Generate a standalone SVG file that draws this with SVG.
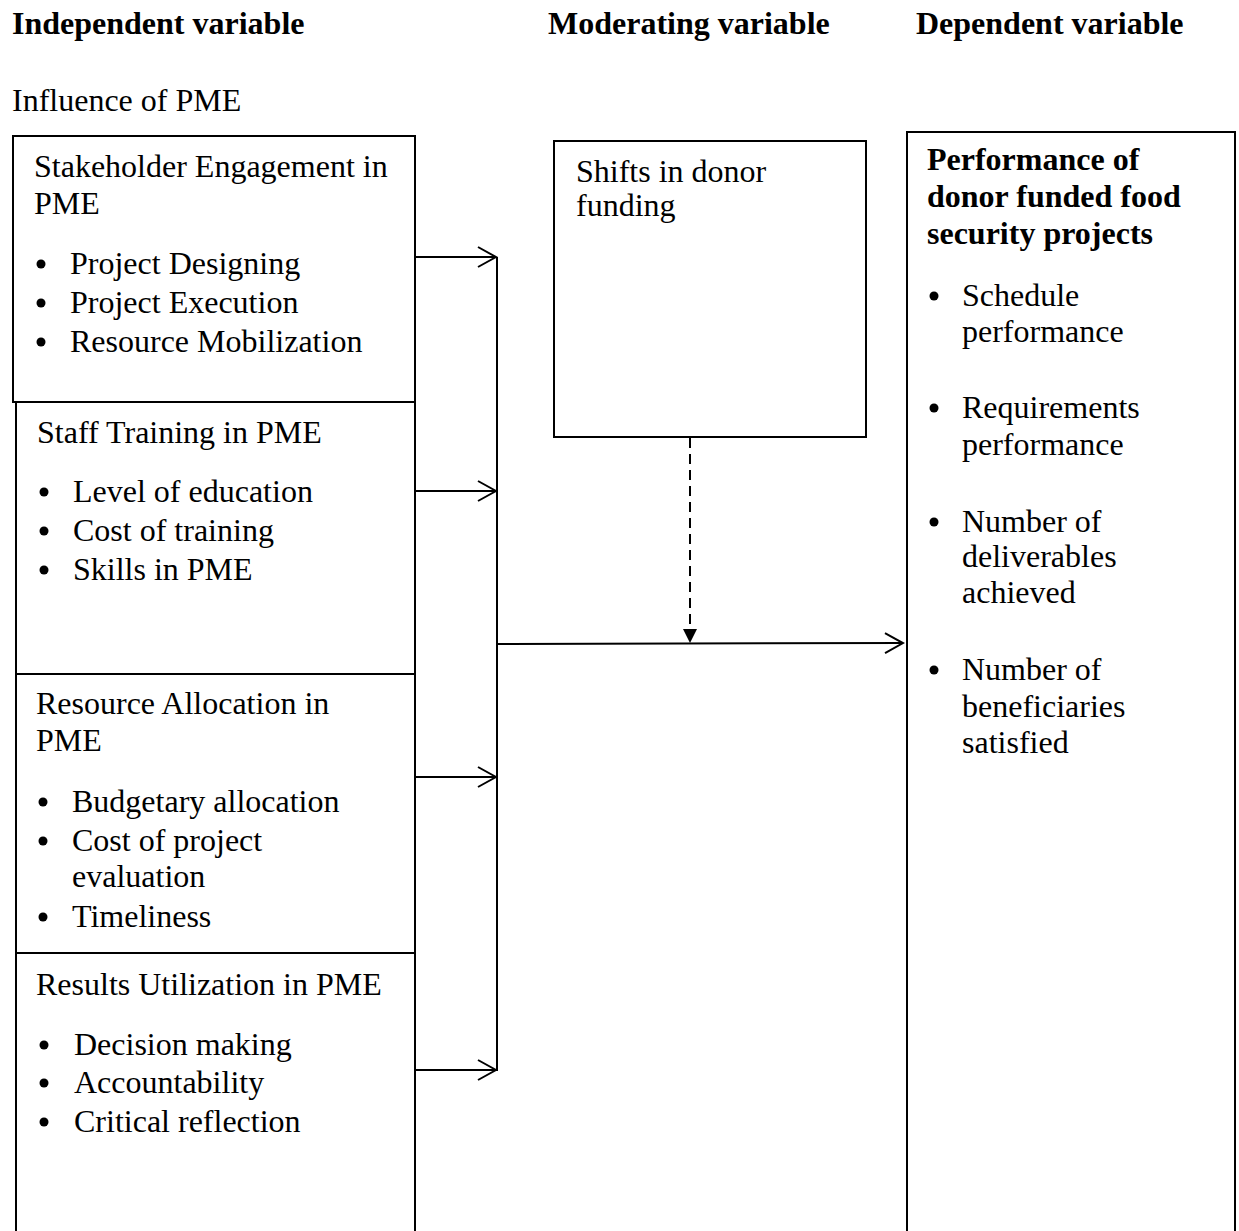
<svg xmlns="http://www.w3.org/2000/svg" width="1239" height="1231" viewBox="0 0 1239 1231">
<defs>
<style>
text{font-family:"Liberation Serif","Times New Roman",serif;font-size:32px;fill:#000}
.b{font-weight:bold}
.box{fill:#fff;stroke:#000;stroke-width:2}
.ln{fill:none;stroke:#000;stroke-width:2}
.dash{fill:none;stroke:#000;stroke-width:2;stroke-dasharray:10 6}
.dot{fill:#000}
</style>
<marker id="open" markerWidth="22" markerHeight="24" refX="20" refY="12" orient="auto" markerUnits="userSpaceOnUse">
<path d="M2,2 L20,12 L2,22" fill="none" stroke="#000" stroke-width="2"/>
</marker>
<marker id="solid" markerWidth="16" markerHeight="16" refX="14" refY="8" orient="auto" markerUnits="userSpaceOnUse">
<path d="M0,1 L14,8 L0,15 Z" fill="#000"/>
</marker>
</defs>
<rect width="1239" height="1231" fill="#fff"/>
<g id="headers">
<text class="b" x="12" y="34">Independent variable</text>
<text class="b" x="548" y="34">Moderating variable</text>
<text class="b" x="916" y="34">Dependent variable</text>
<text x="12" y="111">Influence of PME</text>
</g>
<g id="stakeholder">
<rect class="box" x="13" y="136" width="402" height="266"/>
<text x="34" y="177">Stakeholder Engagement in</text>
<text x="34" y="214">PME</text>
<circle class="dot" cx="41" cy="264" r="4.5"/><text x="70" y="274">Project Designing</text>
<circle class="dot" cx="41" cy="303" r="4.5"/><text x="70" y="313">Project Execution</text>
<circle class="dot" cx="41" cy="342" r="4.5"/><text x="70" y="352">Resource Mobilization</text>
</g>
<g id="staff">
<rect class="box" x="16" y="402" width="399" height="272"/>
<text x="37" y="443">Staff Training in PME</text>
<circle class="dot" cx="44" cy="492" r="4.5"/><text x="73" y="502">Level of education</text>
<circle class="dot" cx="44" cy="531" r="4.5"/><text x="73" y="541">Cost of training</text>
<circle class="dot" cx="44" cy="570" r="4.5"/><text x="73" y="580">Skills in PME</text>
</g>
<g id="resource">
<rect class="box" x="16" y="674" width="399" height="279"/>
<text x="36" y="714">Resource Allocation in</text>
<text x="36" y="751">PME</text>
<circle class="dot" cx="43" cy="802" r="4.5"/><text x="72" y="812">Budgetary allocation</text>
<circle class="dot" cx="43" cy="841" r="4.5"/><text x="72" y="851">Cost of project</text>
<text x="72" y="887">evaluation</text>
<circle class="dot" cx="43" cy="917" r="4.5"/><text x="72" y="927">Timeliness</text>
</g>
<g id="results">
<rect class="box" x="16" y="953" width="399" height="300"/>
<text x="36" y="995">Results Utilization in PME</text>
<circle class="dot" cx="44" cy="1045" r="4.5"/><text x="74" y="1055">Decision making</text>
<circle class="dot" cx="44" cy="1083" r="4.5"/><text x="74" y="1093">Accountability</text>
<circle class="dot" cx="44" cy="1122" r="4.5"/><text x="74" y="1132">Critical reflection</text>
</g>
<g id="moderator">
<rect class="box" x="554" y="141" width="312" height="296"/>
<text x="576" y="182">Shifts in donor</text>
<text x="576" y="216">funding</text>
</g>
<g id="dependent">
<rect class="box" x="907" y="132" width="328" height="1120"/>
<text class="b" x="927" y="170">Performance of</text>
<text class="b" x="927" y="207">donor funded food</text>
<text class="b" x="927" y="244">security projects</text>
<circle class="dot" cx="934" cy="296" r="4.5"/><text x="962" y="306">Schedule</text>
<text x="962" y="342">performance</text>
<circle class="dot" cx="934" cy="408" r="4.5"/><text x="962" y="418">Requirements</text>
<text x="962" y="455">performance</text>
<circle class="dot" cx="934" cy="522" r="4.5"/><text x="962" y="532">Number of</text>
<text x="962" y="567">deliverables</text>
<text x="962" y="603">achieved</text>
<circle class="dot" cx="934" cy="670" r="4.5"/><text x="962" y="680">Number of</text>
<text x="962" y="717">beneficiaries</text>
<text x="962" y="753">satisfied</text>
</g>
<g id="connectors">
<line class="ln" x1="497" y1="257" x2="497" y2="1071"/>
<line class="ln" x1="415" y1="257" x2="496" y2="257" marker-end="url(#open)"/>
<line class="ln" x1="415" y1="491" x2="496" y2="491" marker-end="url(#open)"/>
<line class="ln" x1="415" y1="777" x2="496" y2="777" marker-end="url(#open)"/>
<line class="ln" x1="415" y1="1070" x2="496" y2="1070" marker-end="url(#open)"/>
<line class="ln" x1="497" y1="644" x2="903" y2="643" marker-end="url(#open)"/>
<line class="dash" x1="690" y1="438" x2="690" y2="643" marker-end="url(#solid)"/>
</g>
</svg>
